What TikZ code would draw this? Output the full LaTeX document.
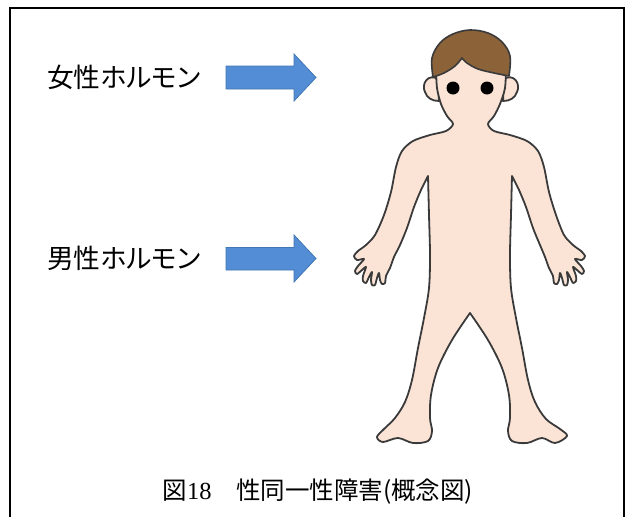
\documentclass[tikz,border=0pt]{standalone}
\usepackage{fontspec}
\newfontfamily\jpsans{Noto Sans CJK JP}[RawFeature=+palt]
\newfontfamily\jpcap{Noto Sans CJK JP}
\newfontfamily\digserif{Liberation Serif}
\definecolor{skin}{RGB}{251,228,214}
\definecolor{outline}{RGB}{58,58,58}
\definecolor{hairbrown}{RGB}{140,98,57}
\definecolor{arrowblue}{RGB}{83,141,213}
\definecolor{arrowedge}{RGB}{66,118,178}
\tikzset{
  hormone/.style={anchor=west, inner sep=0pt, font=\jpsans\fontsize{26.7}{27}\selectfont},
  captiontext/.style={inner sep=0pt, font=\jpcap\fontsize{24.5}{25}\selectfont},
  blockarrow/.style={fill=arrowblue, draw=arrowedge, line width=0.8pt, line join=miter},
  bodyline/.style={fill=skin, draw=outline, line width=1.8pt, line join=round},
  hairshape/.style={fill=hairbrown, draw=outline, line width=1.6pt, line join=round},
  frameline/.style={draw=black, line width=2pt}
}
\begin{document}
\begin{tikzpicture}[x=1pt, y=-1pt]
\useasboundingbox (0,0) rectangle (625,517);

% open frame
\draw[frameline] (9.5,517) -- (9.5,8) -- (623.5,8) -- (623.5,517);

% labels and block arrows
\node[hormone] (female) at (47,77) {女性ホルモン};
\node[hormone] (male) at (47,258) {男性ホルモン};
\draw[blockarrow] (226,66) -- (294,66) -- (294,54) -- (316,77.5) -- (294,101) -- (294,89) -- (226,89) -- cycle;
\draw[blockarrow] (226,247.5) -- (294,247.5) -- (294,235) -- (316,258.5) -- (294,282) -- (294,270) -- (226,270) -- cycle;

% ears
\draw[bodyline] (438,79) .. controls (428,73) and (421,84) .. (425,92) .. controls (427,98) and (432,101) .. (439,101) -- cycle;
\draw[bodyline] (504,79) .. controls (514,73) and (521,84) .. (517,92) .. controls (515,98) and (510,101) .. (503,101) -- cycle;

% head and body outline
\draw[bodyline]
  plot[smooth, tension=0.5] coordinates {(436,68) (437,88) (441,104) (447,116) (453,124) (446,131) (430,135) (413,141) (402,151) (396,167) (391,192) (384,215) (375,235)
    (366,245) (358,251) (354,256) (357,260) (364,259) (358,266) (355,271) (357,274) (362,270) (366,267) (363,276) (363,281) (366,283) (369,277) (372,272) (371,280) (372,285) (375,285) (377,278) (379,273) (380,280) (382,284) (385,283) (386,276) (390,268) (394,257)
    (400,245) (407,228) (414,207) (421,190) (428,176)}
  -- plot[smooth, tension=0.55] coordinates {(428,176) (429,215) (430,255) (429,288) (424,318) (418,348) (412,380) (405,402) (395,418) (384,429) (377,437) (383,442) (398,438) (413,443) (428,441) (432,431) (430,418) (431,395) (438,368) (452,340) (470,313)}
  -- plot[smooth, tension=0.55] coordinates {(470,313) (488,340) (502,368) (509,395) (510,418) (508,431) (512,441) (527,443) (542,438) (555,443) (567,436) (560,429) (546,419) (535,402) (528,380) (522,348) (516,318) (511,288) (510,255) (511,215) (512,176)}
  -- plot[smooth, tension=0.5] coordinates {(512,176) (519,190) (526,207) (533,228) (540,245)
    (545,257) (549,268) (553,276) (554,283) (557,284) (559,280) (560,273) (562,278) (564,285) (567,285) (568,280) (567,272) (570,277) (573,283) (576,281) (576,276) (573,267) (577,270) (582,274) (584,271) (581,266) (575,259) (582,260) (585,256) (581,251) (573,245)
    (564,235) (556,215) (549,192) (544,167) (538,151) (527,141) (510,135) (494,131) (488,124) (494,116) (500,104) (505,88) (506,68)}
  .. controls (506,25) and (436,25) .. (436,68) -- cycle;

% hair
\draw[hairshape]
  plot[smooth, tension=0.6] coordinates {(433,77) (432,58) (440,43) (453,34) (470,30) (488,33) (502,42) (510,56) (509,76)}
  -- plot[smooth, tension=0.6] coordinates {(509,76) (494,73) (478,69) (467,63) (462,58)}
  -- plot[smooth, tension=0.6] coordinates {(462,58) (455,66) (444,73) (433,77)}
  -- cycle;

% eyes
\fill[black] (453,88) circle[radius=6.5pt];
\fill[black] (487,88) circle[radius=6.5pt];

% caption
\node[captiontext] (caption) at (318,492) {図{\digserif 18}　性同一性障害(概念図)};
\end{tikzpicture}
\end{document}
